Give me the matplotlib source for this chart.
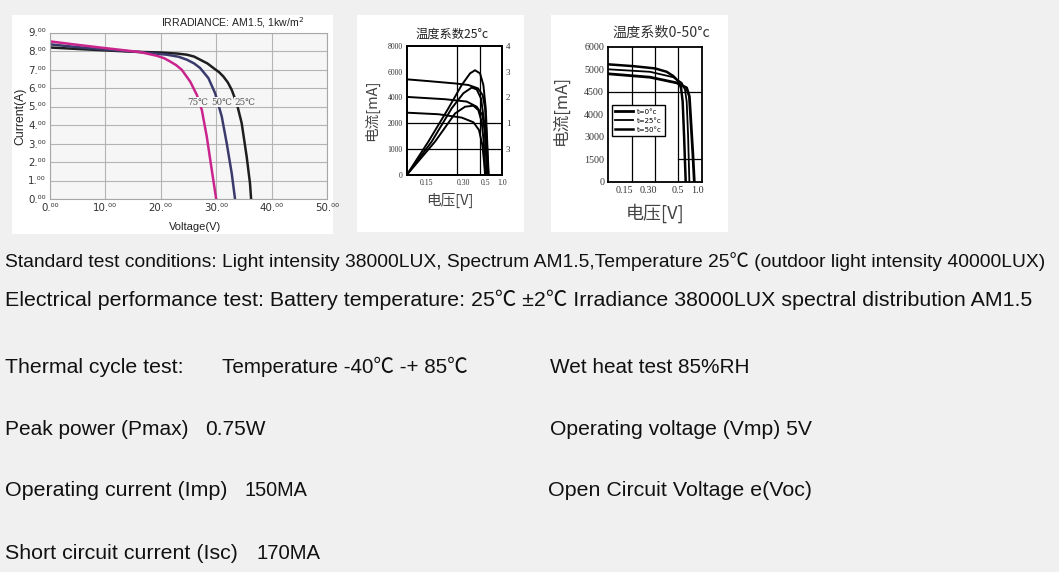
import matplotlib
matplotlib.use("Agg")
import matplotlib.pyplot as plt
from matplotlib.patches import Rectangle

W, H = 1059, 572
BG = "#f0f0f0"
TXT = "#111111"
CJK = ["Noto Sans CJK SC", "DejaVu Sans"]
LAT = ["Liberation Sans", "Noto Sans CJK SC", "DejaVu Sans"]

# ---------------- Panel 1 data: I-V curves vs temperature ----------------
p1_title = "IRRADIANCE: AM1.5, 1kw/m$^2$"
p1_xticks = [0, 10, 20, 30, 40, 50]
p1_yticks = [0, 1, 2, 3, 4, 5, 6, 7, 8, 9]
v_25 = [0, 5, 10.2, 15, 19.9, 23, 24.7, 26, 27.1, 28.4, 29.5, 30.5, 31.3, 32.1, 32.8, 33.7, 34.6, 35.5, 36.1, 36.3]
i_25 = [8.19, 8.11, 8.03, 7.96, 7.92, 7.86, 7.80, 7.70, 7.53, 7.33, 7.08, 6.86, 6.62, 6.30, 5.90, 5.18, 4.10, 2.29, 0.85, 0]
v_50 = [0, 4.5, 9.0, 16.3, 21.1, 23.2, 24.7, 26.0, 27.1, 28.6, 29.8, 31.0, 31.9, 32.8, 33.4]
i_50 = [8.36, 8.22, 8.10, 7.94, 7.80, 7.69, 7.53, 7.33, 7.08, 6.53, 5.72, 4.46, 3.01, 1.39, 0]
v_75 = [0, 4.5, 9.0, 16.3, 19.3, 20.6, 21.7, 22.8, 23.8, 25.3, 26.5, 27.4, 28.3, 29.2, 30.0]
i_75 = [8.52, 8.35, 8.19, 7.94, 7.74, 7.61, 7.43, 7.23, 6.98, 6.35, 5.63, 4.82, 3.37, 1.57, 0]
p1_labels = ["75℃", "50℃", "25℃"]
p1_label_v = [26.7, 31.0, 35.2]
p1_label_i = 5.24

# ---------------- Panel 2 data: I-V and P-V curves (25°C) ----------------
p2_title = "温度系数25°c"
p2_ylabels = ["0", "1000", "2000", "4000", "6000", "8000"]
p2_rlabels = ["", "3", "1", "2", "3", "4"]
p2_xlabels = ["0.15", "0.30", "0.5", "1.0"]
p2_xlabel_pos = [0.21, 0.60, 0.83, 1.0]
p2_iv = [
    ([0, 0.23, 0.51, 0.65, 0.75, 0.80, 0.825, 0.84, 0.853, 0.86],
     [3.70, 3.63, 3.54, 3.48, 3.35, 3.09, 2.58, 1.55, 0.52, 0]),
    ([0, 0.404, 0.632, 0.737, 0.796, 0.825, 0.839, 0.846],
     [3.02, 2.93, 2.84, 2.64, 2.32, 1.68, 0.77, 0]),
    ([0, 0.333, 0.579, 0.702, 0.761, 0.796, 0.814, 0.825],
     [2.41, 2.35, 2.22, 2.04, 1.74, 1.16, 0.52, 0]),
]
p2_pv = [
    ([0, 0.228, 0.439, 0.579, 0.667, 0.719, 0.772, 0.807, 0.832, 0.849, 0.863],
     [0, 1.29, 2.58, 3.48, 3.93, 4.05, 3.93, 3.48, 2.58, 1.16, 0]),
    ([0, 0.263, 0.474, 0.596, 0.684, 0.737, 0.782, 0.811, 0.832, 0.846],
     [0, 1.29, 2.58, 3.16, 3.38, 3.31, 2.96, 2.19, 1.16, 0]),
    ([0, 0.298, 0.509, 0.614, 0.702, 0.754, 0.789, 0.811, 0.828],
     [0, 1.29, 2.38, 2.64, 2.68, 2.51, 2.06, 1.29, 0]),
]

# ---------------- Panel 3 data: I-V curves 0-50°C ----------------
p3_title = "温度系数0-50°c"
p3_ylabels = ["0", "1500", "3000", "4000", "4500", "5000", "6000"]
p3_xlabels = ["0.15", "0.30", "0.5", "1.0"]
p3_xlabel_pos = [0.176, 0.425, 0.74, 0.95]
p3_series = ["t=0°c", "t=25°c", "t=50°c"]
p3_x = [
    [0, 0.446, 0.732, 0.839, 0.868, 0.882, 0.904, 0.921],
    [0, 0.446, 0.696, 0.786, 0.821, 0.839, 0.854, 0.868],
    [0, 0.268, 0.5, 0.625, 0.696, 0.75, 0.779, 0.796, 0.811, 0.821, 0.829],
]
p3_y = [
    [4.79, 4.64, 4.39, 4.17, 3.79, 2.83, 1.34, 0],
    [4.99, 4.88, 4.64, 4.39, 4.09, 3.57, 2.08, 0],
    [5.21, 5.13, 5.03, 4.88, 4.69, 4.46, 4.17, 3.57, 2.08, 0.89, 0],
]

# ---------------- Specification text ----------------
spec_rows = [
    # (text, left px, baseline px, right px)
    ("Standard test conditions: Light intensity 38000LUX, Spectrum AM1.5,Temperature 25℃ (outdoor light intensity 40000LUX)", 5, 266.7, 1047),
    ("Electrical performance test: Battery temperature: 25℃ ±2℃ Irradiance 38000LUX spectral distribution AM1.5", 5, 306.5, 1032),
    ("Thermal cycle test:", 5, 372.7, 183),
    ("Temperature -40℃ -+ 85℃", 222, 372.7, 467),
    ("Wet heat test 85%RH", 550, 372.7, 748),
    ("Peak power (Pmax)", 5, 435, 188),
    ("0.75W", 205, 435, 265),
    ("Operating voltage (Vmp) 5V", 550, 435, 812),
    ("Operating current (Imp)", 5, 495.7, 227),
    ("150MA", 245, 495.7, 308),
    ("Open Circuit Voltage e(Voc)", 548, 495.7, 811),
    ("Short circuit current (Isc)", 5, 559.3, 238),
    ("170MA", 256, 559.3, 320),
]


def rect(l, t, r, b):
    return [l / W, 1 - b / H, (r - l) / W, (b - t) / H]


def fx(x):
    return x / W


def fy(y):
    return 1 - y / H


fig = plt.figure(figsize=(W / 100, H / 100), dpi=100, facecolor=BG)
renderer = fig.canvas.get_renderer()

# white panels
for (l, t, r, b) in [(12, 15, 333, 234), (357, 15, 524, 232), (551, 15, 728, 232)]:
    fig.add_artist(Rectangle((fx(l), fy(b)), (r - l) / W, (b - t) / H,
                             transform=fig.transFigure, facecolor="white",
                             edgecolor="none", zorder=0))

# ---------------- Panel 1 ----------------
ax1 = fig.add_axes(rect(50, 32.5, 327, 199))
ax1.set_facecolor("#f6f6f6")
ax1.plot(v_25, i_25, color="#1e1e1e", lw=1.8, solid_joinstyle="round")
ax1.plot(v_50, i_50, color="#3a3a6c", lw=1.8, solid_joinstyle="round")
ax1.plot(v_75, i_75, color="#c9258c", lw=1.8, solid_joinstyle="round")
ax1.set_xlim(0, 50)
ax1.set_ylim(0, 9)
ax1.set_xticks(p1_xticks)
ax1.set_xticklabels([f"{v}.⁰⁰" for v in p1_xticks], family="DejaVu Sans")
ax1.set_yticks(p1_yticks)
ax1.set_yticklabels([f"{v}.⁰⁰" for v in p1_yticks], family="DejaVu Sans")
ax1.tick_params(length=0, labelsize=7.4, colors="#333333", pad=3)
ax1.grid(True, color="#b4b4b4", lw=0.8)
ax1.set_axisbelow(True)
for s in ax1.spines.values():
    s.set_color("#a8a8a8")
    s.set_linewidth(0.8)
for lab, v in zip(p1_labels, p1_label_v):
    ax1.text(v, p1_label_i, lab, ha="center", va="center", fontsize=6.3,
             color="#555555", family=["DejaVu Serif"],
             bbox=dict(facecolor="#f6f6f6", edgecolor="none", pad=0.5))
fig.text(fx(233), fy(23), p1_title, ha="center", va="center", fontsize=7.6,
         family="Liberation Sans", color="#222222")
fig.text(fx(20), fy(116), "Current(A)", rotation=90, ha="center", va="center",
         fontsize=8.8, family="Liberation Sans", color="#222222")
fig.text(fx(195), fy(227), "Voltage(V)", ha="center", va="center",
         fontsize=8.0, family="Liberation Sans", color="#222222")

# ---------------- Panel 2 ----------------
ax2 = fig.add_axes(rect(406.7, 45.7, 501.7, 175))
for xs, ys in p2_iv:
    ax2.plot(xs, ys, color="black", lw=1.4)
for xs, ys in p2_pv:
    ax2.plot(xs, ys, color="black", lw=1.4)
ax2.set_xlim(0, 1)
ax2.set_ylim(0, 5)
for gx in [0.526, 0.772]:
    ax2.axvline(gx, color="black", lw=0.9, zorder=0)
for gy in [1, 2]:
    ax2.axhline(gy, color="black", lw=0.9, zorder=0)
ax2.set_yticks(range(6))
ax2.set_yticklabels(p2_ylabels, family="Liberation Serif")
ax2.set_xticks(p2_xlabel_pos)
ax2.set_xticklabels(p2_xlabels, family="Liberation Serif")
ax2.tick_params(length=0, labelsize=5.6, colors="#333333", pad=3)
ax2r = ax2.twinx()
ax2r.set_ylim(0, 5)
ax2r.set_yticks(range(6))
ax2r.set_yticklabels(p2_rlabels, family="Liberation Serif")
ax2r.tick_params(length=0, labelsize=6.5, colors="#333333", pad=3)
for a in (ax2, ax2r):
    for s in a.spines.values():
        s.set_color("black")
        s.set_linewidth(1.3)
fig.text(fx(452), fy(34), p2_title, ha="center", va="center", fontsize=8.8,
         family=CJK, color="#222222")
fig.text(fx(372), fy(110), "电流[mA]", rotation=90, ha="center", va="center",
         fontsize=10.5, family=CJK, color="#444444")
fig.text(fx(450), fy(200.5), "电压[V]", ha="center", va="center",
         fontsize=10.5, family=CJK, color="#444444")

# ---------------- Panel 3 ----------------
ax3 = fig.add_axes(rect(608.3, 46.5, 701.7, 182))
widths = [2.0, 1.3, 1.8]
handles = []
for xs, ys, lab, lw in zip(p3_x, p3_y, p3_series, widths):
    h, = ax3.plot(xs, ys, color="black", lw=lw, label=lab)
    handles.append(h)
ax3.set_xlim(0, 1)
ax3.set_ylim(0, 6)
for gx in [0.25, 0.5, 0.75]:
    ax3.axvline(gx, color="black", lw=0.9, zorder=0)
ax3.axhline(4, color="black", lw=0.9, zorder=0)
ax3.plot([0.75, 1.0], [1, 1], color="black", lw=0.9, zorder=0)
ax3.set_yticks(range(7))
ax3.set_yticklabels(p3_ylabels, family="Liberation Serif")
ax3.set_xticks(p3_xlabel_pos)
ax3.set_xticklabels(p3_xlabels, family="Liberation Serif")
ax3.tick_params(length=0, labelsize=7.2, colors="#333333", pad=3)
for s in ax3.spines.values():
    s.set_color("black")
    s.set_linewidth(1.3)
leg = ax3.legend(handles=handles, loc="upper left", bbox_to_anchor=(0.036, 0.568),
                 borderaxespad=0, fontsize=5.0, handlelength=2.6, handletextpad=0.5,
                 labelspacing=0.45, borderpad=0.5, fancybox=False, framealpha=1,
                 edgecolor="black")
leg.get_frame().set_linewidth(1.0)
for t in leg.get_texts():
    t.set_family("DejaVu Sans")
fig.text(fx(661), fy(32.7), p3_title, ha="center", va="center", fontsize=10.2,
         family=CJK, color="#333333")
fig.text(fx(561), fy(110), "电流[mA]", rotation=90, ha="center", va="center",
         fontsize=12, family=CJK, color="#444444")
fig.text(fx(655), fy(213), "电压[V]", ha="center", va="center",
         fontsize=13, family=CJK, color="#444444")

# ---------------- Specification text ----------------
for s, l, base, r in spec_rows:
    t = fig.text(fx(l), fy(base), s, ha="left", va="baseline", fontsize=13,
                 family=LAT, color=TXT)
    w = t.get_window_extent(renderer).width
    t.set_fontsize(13 * (r - l) / w)

fig.savefig("out.png", dpi=100, facecolor=BG)
